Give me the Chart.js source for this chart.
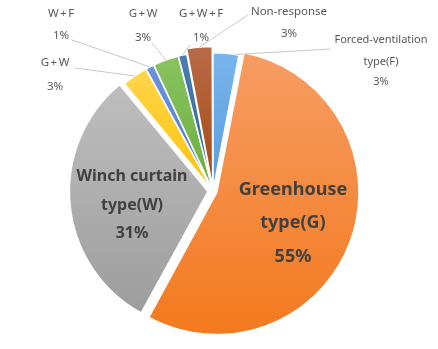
<!DOCTYPE html>
<html><head><meta charset="utf-8">
<script src="https://cdn.jsdelivr.net/npm/chart.js@4/dist/chart.umd.min.js"></script>
<style>html,body{margin:0;padding:0;background:#fff}canvas{display:block}</style>
</head><body>
<canvas id="c" width="438" height="349"></canvas>
<script>
// ---- data ----
const categories = ["Forced-ventilation type(F)", "Greenhouse type(G)", "Winch curtain type(W)", "G+W", "W+F", "G+W", "G+W+F", "Non-response"];
const shares = [3, 55, 31, 3, 1, 3, 1, 3];
const percentLabels = ["3%", "55%", "31%", "3%", "1%", "3%", "1%", "3%"];
const labelLines = [["Forced-ventilation", "type(F)"], ["Greenhouse", "type(G)"], ["Winch curtain", "type(W)"], ["G+W"], ["W+F"], ["G+W"], ["G+W+F"], ["Non-response"]];

// ---- styles ----
const topColors    = ["#78B4EC", "#F79C63", "#BEBEBE", "#FFD54A", "#6A93DE", "#88C35E", "#4A7DB0", "#B86A47"];
const bottomColors = ["#5A9CDC", "#F37A1F", "#9D9D9D", "#FFC20A", "#4F7ACF", "#6DAE41", "#2E6399", "#A64A12"];
const explode = [0, 16, 20, 2, 2, 2, 2, 14];

// label layout: centre x, y of each line, optional leader start & fraction along arc
const labelLayout = [
  {x: 381, ys: [40, 62, 82], size: 11, bold: false, from: [330, 49], frac: 0.85},
  {x: 293, ys: [190, 223, 257], size: 18, bold: true},
  {x: 132, ys: [176, 205, 233], size: 16, bold: true},
  {x: 55, ys: [63, 87], size: 11.5, bold: false, from: [75, 68], frac: 0.5, ls: 1.5},
  {x: 61, ys: [14, 36], size: 11.5, bold: false, from: [72, 40], frac: 0.5, ls: 1.5},
  {x: 143, ys: [14, 38], size: 11.5, bold: false, from: [152, 43], frac: 0.5, ls: 1.5},
  {x: 201, ys: [14, 38], size: 11.5, bold: false, from: [190, 45], frac: 0.5, ls: 1.5},
  {x: 289, ys: [12, 34], size: 11.5, bold: false, from: [248, 15], frac: 0.5}
];

function sliceFill(ctx) {
  const i = ctx.dataIndex;
  const chart = ctx.chart;
  const area = chart.chartArea;
  if (i === undefined) return "#fff";
  if (!area) return topColors[i];
  const cx = (area.left + area.right) / 2, cy = (area.top + area.bottom) / 2;
  const r = (Math.min(area.width, area.height) - 22) / 2;
  const total = shares.reduce((a, b) => a + b, 0);
  let a0 = 0;
  for (let k = 0; k < i; k++) a0 += shares[k] / total * Math.PI * 2;
  const a1 = a0 + shares[i] / total * Math.PI * 2;
  let ymin = cy, ymax = cy;
  for (let s = 0; s <= 60; s++) {
    const a = a0 + (a1 - a0) * s / 60;
    const y = cy - r * Math.cos(a);
    ymin = Math.min(ymin, y); ymax = Math.max(ymax, y);
  }
  const g = chart.ctx.createLinearGradient(0, ymin, 0, ymax);
  g.addColorStop(0, topColors[i]);
  g.addColorStop(1, bottomColors[i]);
  return g;
}

const labelPlugin = {
  id: 'sliceLabels',
  afterDatasetsDraw(chart) {
    const c = chart.ctx;
    const meta = chart.getDatasetMeta(0);
    c.save();
    meta.data.forEach((arc, i) => {
      const L = labelLayout[i];
      if (L.from) {
        const p = arc.getProps(['x', 'y', 'startAngle', 'endAngle', 'outerRadius'], true);
        const ang = p.startAngle + (p.endAngle - p.startAngle) * L.frac;
        const mid = (p.startAngle + p.endAngle) / 2;
        const t = explode[i] / 4;
        const fix = 1 - Math.sin(Math.min(Math.PI, p.endAngle - p.startAngle));
        const R = p.outerRadius + t * fix;
        const ex = p.x + Math.cos(mid) * t + Math.cos(ang) * R;
        const ey = p.y + Math.sin(mid) * t + Math.sin(ang) * R;
        c.strokeStyle = '#C8C8C8';
        c.lineWidth = 1;
        c.beginPath();
        c.moveTo(L.from[0], L.from[1]);
        c.lineTo(ex, ey);
        c.stroke();
      }
      const lines = labelLines[i].concat([percentLabels[i]]);
      c.fillStyle = L.bold ? '#404040' : '#595959';
      c.font = (L.bold ? 'bold ' : '') + L.size + 'px "Noto Sans", "Open Sans", sans-serif';
      c.textAlign = 'center';
      c.textBaseline = 'middle';
      lines.forEach((txt, j) => {
        const spaced = L.ls && txt.indexOf('+') >= 0;
        c.letterSpacing = spaced ? L.ls + 'px' : '0px';
        c.fillText(txt, L.x + (spaced ? L.ls / 2 : 0), L.ys[j]);
      });
      c.letterSpacing = '0px';
    });
    c.restore();
  }
};

new Chart(document.getElementById('c'), {
  type: 'pie',
  data: {
    labels: categories,
    datasets: [{
      data: shares,
      backgroundColor: sliceFill,
      borderColor: '#ffffff',
      borderWidth: 1.5,
      offset: explode,
      hoverOffset: 0
    }]
  },
  options: {
    responsive: false,
    animation: false,
    events: [],
    rotation: 0,
    layout: {padding: {top: 42, bottom: 9, left: 60, right: 72}},
    plugins: {legend: {display: false}, tooltip: {enabled: false}}
  },
  plugins: [labelPlugin]
});
</script>
</body></html>
